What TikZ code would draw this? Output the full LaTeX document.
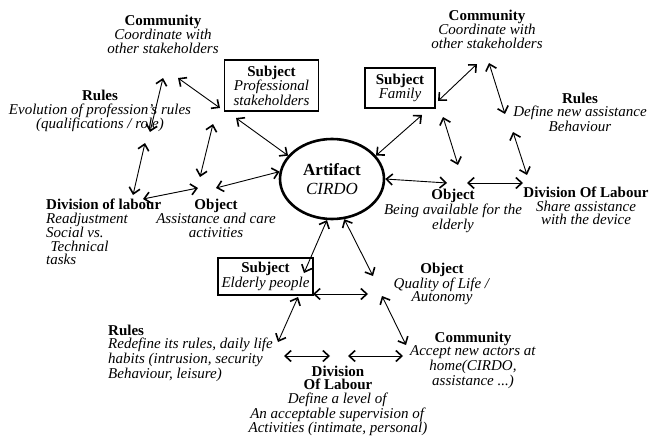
\documentclass[tikz,border=0pt]{standalone}
\usepackage{fontspec}
\setmainfont{Liberation Serif}
\usetikzlibrary{arrows.meta,shapes.geometric}
\tikzset{
  lbl/.style={inner sep=0pt, align=center, font=\fontsize{15}{13.6}\selectfont},
  lbll/.style={inner sep=0pt, align=left, font=\fontsize{15}{13.6}\selectfont},
  sbox/.style={draw, line width=1.3pt, inner sep=0pt, align=center, font=\fontsize{15}{14.5}\selectfont},
  arr/.style={{Straight Barb[length=6pt,width=11pt,line width=1.6pt]}-{Straight Barb[length=6pt,width=11pt,line width=1.6pt]}, line width=0.9pt}
}
\begin{document}
\begin{tikzpicture}[x=1pt,y=-1pt]
\useasboundingbox (0,0) rectangle (650,436);
% ---------- artifact ----------
\node[ellipse, draw, line width=2.6pt, minimum width=104pt, minimum height=80pt, inner sep=0pt, align=center,
  font=\fontsize{17}{19}\selectfont] (art) at (332,179) {\textbf{Artifact}\\\textit{CIRDO}};
% ---------- left system ----------
\node[lbl] (lcom) at (163,34) {\textbf{Community}\\\textit{Coordinate with}\\\textit{other stakeholders}};
\node[sbox, minimum width=94pt, minimum height=51pt] (s1) at (271.5,85.5) {\textbf{Subject}\\\textit{Professional}\\\textit{stakeholders}};
\node[lbl] (lrules) at (100,111) {\textbf{Rules}\\\textit{Evolution of profession's rules}\\\textit{(qualifications / role)}};
\node[lbll, anchor=west] (ldiv) at (46,232) {\textbf{Division of labour}\\\textit{Readjustment}\\\textit{Social vs.}\\\hspace{0.3em}\textit{Technical}\\\textit{tasks}};
\node[lbl] (lobj) at (216,218) {\textbf{Object}\\\textit{Assistance and care}\\\textit{activities}};
% ---------- right system ----------
\node[lbl] (rcom) at (487,29) {\textbf{Community}\\\textit{Coordinate with}\\\textit{other stakeholders}};
\node[sbox, minimum width=70pt, minimum height=40pt] (fam) at (400,88) {\textbf{Subject}\\\textit{Family}};
\node[lbl] (rrules) at (580,112) {\textbf{Rules}\\\textit{Define new assistance}\\\textit{Behaviour}};
\node[lbl] (robj) at (453,211) {\textbf{Object}\\\textit{Being available for the}\\\textit{elderly}};
\node[lbl] (rdiv) at (586,206) {\textbf{Division Of Labour}\\\textit{Share assistance}\\\textit{with the device}};
% ---------- bottom system ----------
\node[sbox, minimum width=95pt, minimum height=37pt] (s3) at (265.5,276.5) {\textbf{Subject}\\\textit{Elderly people}};
\node[lbl] (bobj) at (442,284) {\textbf{Object}\\\textit{Quality of Life /}\\\textit{Autonomy}};
\node[lbll, anchor=west] (brules) at (108,353) {\textbf{Rules}\\\textit{Redefine its rules, daily life}\\\textit{habits (intrusion, security}\\\textit{Behaviour, leisure)}};
\node[lbl] (bdiv) at (338,401) {\textbf{Division}\\\textbf{Of Labour}\\\textit{Define a level of}\\\textit{An acceptable supervision of}\\\textit{Activities (intimate, personal)}};
\node[lbl] (bcom) at (473,360) {\textbf{Community}\\\textit{Accept new actors at}\\\textit{home(CIRDO,}\\\textit{assistance ...)}};
% ---------- arrow end points ----------
\coordinate (lcomA) at (163,78);  \coordinate (lrulesA) at (150,132);
\coordinate (lrulesB) at (145,143); \coordinate (ldivA) at (133,195);
\coordinate (lcomB) at (178,78);  \coordinate (s1A) at (220,108);
\coordinate (s1B) at (236,118);
\coordinate (s1C) at (213,124);   \coordinate (lobjA) at (200,177);
\coordinate (ldivB) at (143,199); \coordinate (lobjB) at (198,188);
\coordinate (lobjC) at (216,188);
\coordinate (famA) at (438,101);  \coordinate (rcomA) at (477,64);
\coordinate (rcomB) at (489,63);  \coordinate (rrulesA) at (505,114);
\coordinate (famB) at (422,115);
\coordinate (famC) at (443,117);  \coordinate (robjA) at (458,165);
\coordinate (rrulesB) at (513,132); \coordinate (rdivA) at (527,175);
\coordinate (robjB) at (447,183);
\coordinate (robjC) at (467,183); \coordinate (rdivB) at (523,183);
\coordinate (s3A) at (304,273);
\coordinate (bobjA) at (373,276);
\coordinate (s3B) at (313,294);   \coordinate (bobjB) at (368,294);
\coordinate (s3C) at (298,297);   \coordinate (brulesA) at (278,342);
\coordinate (bobjC) at (382,296); \coordinate (bcomA) at (406,345);
\coordinate (brulesB) at (284,356); \coordinate (bdivA) at (330,356);
\coordinate (bdivB) at (348,356); \coordinate (bcomB) at (403,356);
% ---------- arrows ----------
\draw[arr] (lcomA) -- (lrulesA);
\draw[arr] (lrulesB) -- (ldivA);
\draw[arr] (lcomB) -- (s1A);
\draw[arr] (s1B) -- (art.152);
\draw[arr] (s1C) -- (lobjA);
\draw[arr] (ldivB) -- (lobjB);
\draw[arr] (lobjC) -- (art.172);
\draw[arr] (famA) -- (rcomA);
\draw[arr] (rcomB) -- (rrulesA);
\draw[arr] (art.28) -- (famB);
\draw[arr] (famC) -- (robjA);
\draw[arr] (rrulesB) -- (rdivA);
\draw[arr] (art.0) -- (robjB);
\draw[arr] (robjC) -- (rdivB);
\draw[arr] (art.263) -- (s3A);
\draw[arr] (art.287) -- (bobjA);
\draw[arr] (s3B) -- (bobjB);
\draw[arr] (s3C) -- (brulesA);
\draw[arr] (bobjC) -- (bcomA);
\draw[arr] (brulesB) -- (bdivA);
\draw[arr] (bdivB) -- (bcomB);
\end{tikzpicture}
\end{document}
